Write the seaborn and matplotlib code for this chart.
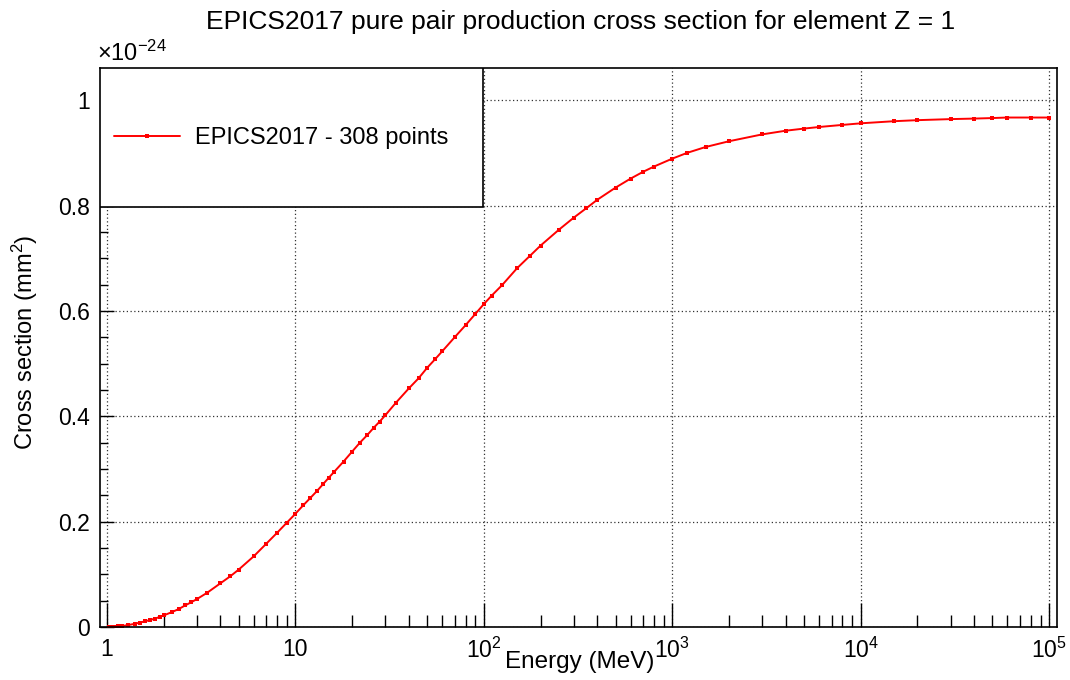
import numpy as np
import pandas as pd
import matplotlib
matplotlib.use("Agg")
import matplotlib.pyplot as plt
import matplotlib.ticker as mticker
from matplotlib.patches import Rectangle
import seaborn as sns

# ---- data (cross section in units of 1e-24 mm^2) ----
energy_mev = [1.022, 1.05, 1.1, 1.15, 1.2, 1.3, 1.4, 1.5, 1.6, 1.7, 1.8, 1.9, 2.0,
              2.2, 2.4, 2.6, 2.8, 3.0, 3.4, 4.0, 4.5, 5.0, 6.0, 7.0, 8.0, 9.0, 10,
              11, 12, 13, 14, 15, 16, 18, 20, 22, 24, 26, 28, 30, 34, 40, 45, 50,
              55, 60, 70, 80, 90, 100, 110, 125, 150, 175, 200, 250, 300, 350, 400,
              500, 600, 700, 800, 1000, 1200, 1500, 2000, 3000, 4000, 5000, 6000,
              8000, 10000, 15000, 20000, 30000, 40000, 50000, 60000, 80000, 100000]
cross_section = [0.0, 0.0001, 0.0005, 0.001, 0.0018, 0.0038, 0.006, 0.0085, 0.011,
                 0.0135, 0.016, 0.019, 0.022, 0.028, 0.034, 0.041, 0.047, 0.053,
                 0.065, 0.083, 0.096, 0.109, 0.134, 0.158, 0.179, 0.198, 0.215,
                 0.231, 0.245, 0.258, 0.271, 0.283, 0.294, 0.314, 0.333, 0.350,
                 0.364, 0.378, 0.390, 0.402, 0.425, 0.453, 0.472, 0.492, 0.508,
                 0.523, 0.550, 0.573, 0.594, 0.613, 0.629, 0.649, 0.681, 0.704,
                 0.724, 0.754, 0.777, 0.795, 0.811, 0.834, 0.851, 0.864, 0.874,
                 0.889, 0.900, 0.911, 0.922, 0.935, 0.942, 0.946, 0.949, 0.953,
                 0.956, 0.960, 0.962, 0.964, 0.965, 0.966, 0.967, 0.967, 0.967]
series_label = "EPICS2017 - 308 points"
title_text = "EPICS2017 pure pair production cross section for element Z = 1"
x_label = "Energy (MeV)"
y_label = "Cross section (mm$^{2}$)"
y_ticks = [0, 0.2, 0.4, 0.6, 0.8, 1.0]
y_tick_labels = ["0", "0.2", "0.4", "0.6", "0.8", "1"]
x_ticks = [1, 10, 100, 1000, 10000, 100000]
x_tick_labels = ["1", "10", "10$^{2}$", "10$^{3}$", "10$^{4}$", "10$^{5}$"]

df = pd.DataFrame({"E": energy_mev, "xs": cross_section})

sns.set_style("white")
plt.rcParams["font.family"] = ["Liberation Sans", "DejaVu Sans"]
plt.rcParams["mathtext.fontset"] = "custom"
plt.rcParams["mathtext.rm"] = "Liberation Sans"
plt.rcParams["mathtext.it"] = "Liberation Sans"
plt.rcParams["mathtext.default"] = "regular"
plt.rcParams["text.color"] = "black"
plt.rcParams["xtick.color"] = "black"
plt.rcParams["ytick.color"] = "black"

fig = plt.figure(figsize=(10.7, 6.8), dpi=100)
ax = fig.add_axes([100/1070, 53/680, 957/1070, 559/680])

sns.lineplot(data=df, x="E", y="xs", ax=ax, color="#ff0000", linewidth=1.4,
             marker="s", markersize=3.5, markeredgewidth=0, label=series_label,
             legend=False)

ax.set_xscale("log")
ax.set_xlim(0.918, 1.1e5)
ax.set_ylim(0, 1.061)

ax.set_xticks(x_ticks)
ax.set_xticklabels(x_tick_labels)
ax.xaxis.set_minor_locator(mticker.LogLocator(base=10, subs=np.arange(2, 10), numticks=20))
ax.xaxis.set_minor_formatter(mticker.NullFormatter())
ax.set_yticks(y_ticks)
ax.set_yticklabels(y_tick_labels)
ax.yaxis.set_minor_locator(mticker.MultipleLocator(0.05))

ax.tick_params(axis="both", which="both", direction="in", labelsize=16.5, colors="black",
               bottom=True, left=True, top=False, right=False)
ax.tick_params(axis="x", which="major", length=17, width=1, pad=8)
ax.tick_params(axis="x", which="minor", length=9, width=1)
ax.tick_params(axis="y", which="major", length=10, width=1, pad=7)
ax.tick_params(axis="y", which="minor", length=6, width=1)

ax.grid(True, which="major", linestyle=(0, (1, 2)), color="#333333", linewidth=0.9)
for s in ax.spines.values():
    s.set_color("black")
    s.set_linewidth(1.2)

ax.set_xlabel("")
ax.set_ylabel("")
ax.text(0.501, -0.063, x_label, transform=ax.transAxes, ha="center", va="center",
        fontsize=17.5, color="black")
ax.text(-0.078, 0.51, y_label, transform=ax.transAxes, ha="center", va="center",
        rotation=90, fontsize=17, color="black")
ax.text(-0.003, 1.003, "×10$^{-24}$", transform=ax.transAxes, ha="left", va="bottom",
        fontsize=17, color="black")
fig.text(0.5425, 0.968, title_text, ha="center", va="center", fontsize=19, color="black")

# legend box
rect = Rectangle((0, 0.751), 0.40, 0.249, transform=ax.transAxes, facecolor="white",
                 edgecolor="black", linewidth=1.2, zorder=5)
ax.add_patch(rect)
leg = ax.legend(loc="center left", bbox_to_anchor=(0.0146, 0.875), frameon=False,
                fontsize=17, handlelength=2.8, handletextpad=0.64, borderpad=0,
                borderaxespad=0, labelcolor="black")
leg.set_zorder(6)

fig.savefig("out.png", dpi=100)
